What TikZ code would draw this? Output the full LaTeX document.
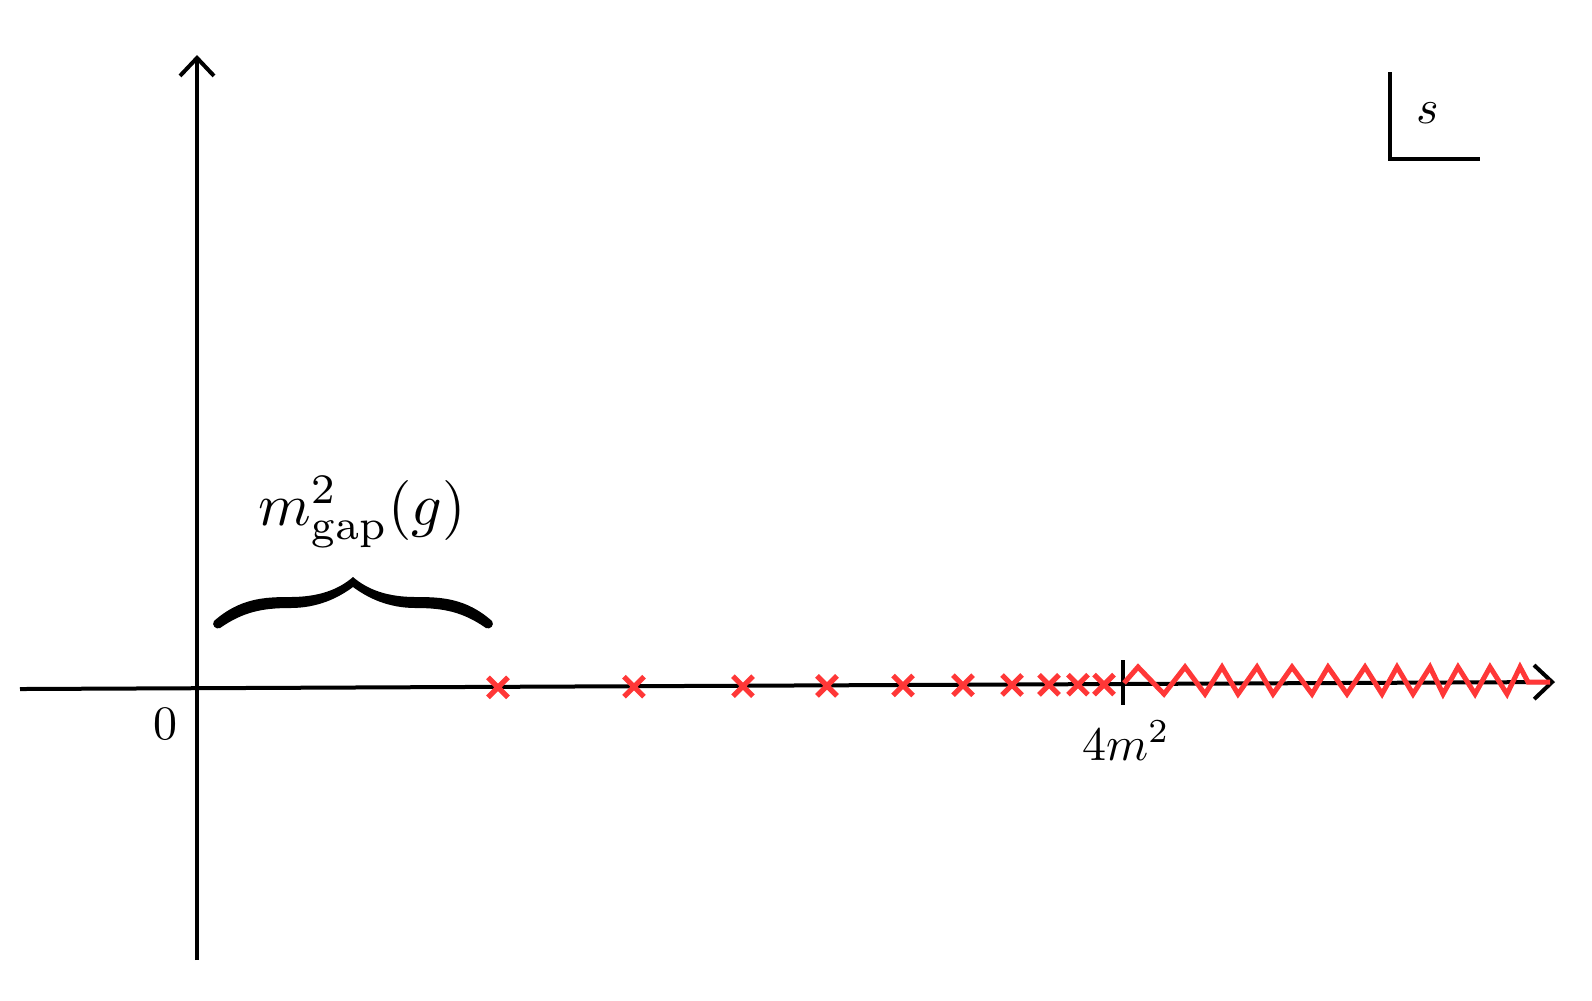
\documentclass[tikz,border=0pt]{standalone}
\usetikzlibrary{arrows.meta}
\definecolor{cutred}{RGB}{255,55,55}
\tikzset{
  axisline/.style={line width=1pt, -{Straight Barb[length=4.5pt,width=8.5pt,line width=1pt]}},
  polecross/.style={cutred, line width=1.3pt},
  cutline/.style={cutred, line width=1.25pt, line join=miter},
  plainline/.style={line width=1pt},
  lbl/.style={inner sep=0pt, scale=1.2},
  biglbl/.style={inner sep=0pt, scale=1.5},
}
\begin{document}
\begin{tikzpicture}[x=0.25pt,y=-0.25pt]
\useasboundingbox (0,0) rectangle (1592,1000);
% axes
\coordinate (xl) at (20,689);
\coordinate (xr) at (1555,682);
\coordinate (yb) at (197,960);
\coordinate (yt) at (197,55);
\draw[axisline] (xl) -- (xr);
\draw[axisline] (yb) -- (yt);
% origin label
\node[lbl] (zero) at (165,724.5) {$0$};
% threshold tick
\coordinate (ticktop) at (1123,660);
\coordinate (tickbot) at (1123,705);
\draw[plainline] (ticktop) -- (tickbot);
\node[lbl, anchor=base] (thr) at (1126,760) {$4m^2$};
% poles
\foreach \px [count=\k] in {498,634,743,827,903,963,1012,1049,1078,1104}{
  \pgfmathsetmacro{\py}{689.5-7*(\px-20)/1535}
  \coordinate (pole\k) at (\px,\py);
  \draw[polecross] ([shift={(-10,-10)}]pole\k) -- ([shift={(10,10)}]pole\k)
                   ([shift={(-10,10)}]pole\k) -- ([shift={(10,-10)}]pole\k);
}
% branch cut
\coordinate (cutstart) at (1124,683);
\coordinate (cutend) at (1550,682);
\draw[cutline] (cutstart)
  -- (1138,667) -- (1164,694) -- (1185,667) -- (1205,694) -- (1222,667)
  -- (1238,694) -- (1257,667) -- (1273,694) -- (1292,667) -- (1312,694)
  -- (1328,667) -- (1347,694) -- (1365,667) -- (1382,694) -- (1397,667)
  -- (1413,694) -- (1430,667) -- (1443,694) -- (1458,667) -- (1475,694)
  -- (1490,667) -- (1507,694) -- (1520,667) -- (1528,682) -- (cutend);
% brace
\fill (214,621) .. controls (240,598) and (265,597) .. (290,597)
  .. controls (318,597) and (338,590) .. (353,577)
  .. controls (368,590) and (388,597) .. (416,597)
  .. controls (441,597) and (466,598) .. (492,621)
  .. controls (495,625) and (490,630) .. (486,628)
  .. controls (463,612) and (444,608) .. (416,608)
  .. controls (388,608) and (368,598) .. (353,587)
  .. controls (338,598) and (318,608) .. (290,608)
  .. controls (262,608) and (243,612) .. (220,628)
  .. controls (216,630) and (211,625) .. (214,621) -- cycle;
\node[biglbl, anchor=base] (gap) at (362,525) {$m^2_{\mathrm{gap}}(g)$};
% plane label
\coordinate (cornertop) at (1390,72);
\coordinate (corner) at (1390,159);
\coordinate (cornerright) at (1480,159);
\draw[plainline] (cornertop) -- (corner) -- (cornerright);
\node[lbl, anchor=base] (svar) at (1428,123) {$s$};
\end{tikzpicture}
\end{document}
